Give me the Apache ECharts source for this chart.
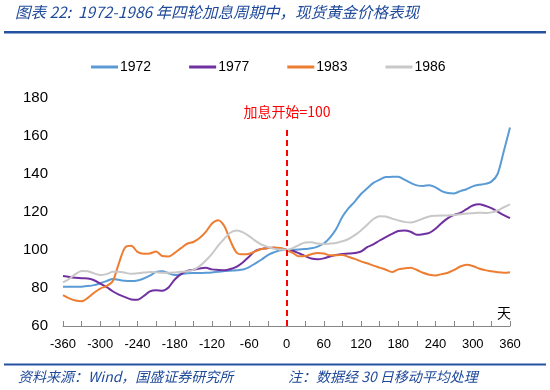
<!DOCTYPE html>
<html>
<head>
<meta charset="utf-8">
<script src="https://cdn.jsdelivr.net/npm/echarts@6/dist/echarts.min.js"></script>
<style>
html,body{margin:0;padding:0;background:#fff;}
#c{width:550px;height:390px;}
</style>
</head>
<body>
<div id="c"></div>
<script>
const days = [-360,-350,-340,-330,-320,-310,-300,-290,-280,-270,-260,-250,-240,-230,-220,-210,-200,-190,-180,-170,-160,-150,-140,-130,-120,-110,-100,-90,-80,-70,-60,-50,-40,-30,-20,-10,0,10,20,30,40,50,60,70,80,90,100,110,120,130,140,150,160,170,180,190,200,210,220,230,240,250,260,270,280,290,300,310,320,330,340,350,360];

const s1972 = [80.6,80.6,80.6,80.7,81,81.5,82.5,83.6,84.8,84.3,83.8,83.7,84,85,86.5,88.5,88.8,87.8,86.8,87.2,87.8,87.9,87.9,88,88.2,88.5,88.9,89.1,89.3,89.7,91,93,95,97.3,98.8,99.9,100,100.1,100.2,100.5,100.9,101.8,103.4,106.5,111,117.5,122,125.5,129.5,132.5,135.3,137,138.4,138.5,138.6,137,135.3,134,133.7,134.1,133,131,130,129.8,131,132,133.5,134.3,134.8,136,140,152,164.5];

const s1977 = [86.3,85.8,85.4,85.1,85,84.1,82.3,80.6,78.3,76.5,75.2,74,73.8,75.8,78.2,78.8,78.6,80.3,84.5,87.3,89,89.6,90.3,90.6,89.8,89.5,89.3,90,91.3,93.6,96.6,99.6,100.6,101,101.2,100.8,100.2,99.6,98.3,96.8,95.5,95.1,95.6,96.6,97.4,97.9,98.1,98.4,99.2,101.5,103,105,106.8,108.5,110,110.3,109.6,108,108.3,109,111.2,114.2,116.8,118.5,119.5,121.5,123.4,124.1,123.3,122,120.2,118.3,116.8];

const s1983 = [76.2,74.5,73.4,73,74.8,77.5,79.7,81,83.5,93,101.3,102.2,99,98,98.2,99.2,96.8,96.6,98.5,101,103.3,104.2,106.3,109.5,114,115.7,112.5,104.5,98.5,97.7,98,99.3,100.5,101,101.3,101,100,98.5,96.7,96.8,97.8,98.4,98.2,97.2,97.2,97.4,96.3,95.3,94,93,91.8,90.7,89.6,88.4,89.8,90.3,90.6,89.5,88,87,86.6,87.3,88,89.5,91.3,92.2,91.6,90.3,89.4,88.8,88.3,88,88.3];

const s1986 = [83,84.8,87.3,89,88.8,87.7,86.8,87.3,88.5,88.6,88,87.5,87.8,88.1,88.4,88.3,88,88,88.2,88.5,88.8,89.5,91.5,94.5,98,102.3,106,109.2,110.2,109.3,107.3,104.8,102.8,101.6,100.6,100.2,100,101,102.6,103.9,104.1,103.4,103.2,103.4,103.7,104.6,105.8,107.8,110.3,113.3,116.3,117.8,117.6,116.5,115.6,114.8,114.5,115.3,116.6,117.6,118,118.2,118.2,118.4,118.8,119.2,119.4,119.6,119.5,119.8,120.8,122.5,124];

const seriesNames = ['1972','1977','1983','1986'];
const seriesColors = ['#5B9BD5','#7030A0','#ED7D31','#C8C8C8'];
const seriesValues = [s1972, s1977, s1983, s1986];

const titleText = '图表 22:  1972-1986 年四轮加息周期中，现货黄金价格表现';
const sourceText = '资料来源：Wind，国盛证券研究所';
const noteText = '注：数据经 30 日移动平均处理';
const markText = '加息开始=100';

const chart = echarts.init(document.getElementById('c'), null, {renderer:'canvas'});

const series = seriesValues.map((vals, i) => ({
  name: seriesNames[i],
  type: 'line',
  data: days.map((d, j) => [d, vals[j]]),
  symbol: 'none',
  smooth: 0.3,
  lineStyle: {width: 2, color: seriesColors[i]},
  itemStyle: {color: seriesColors[i]},
  z: 2
}));

series[0].markLine = {
  silent: true,
  symbol: 'none',
  label: {show: false},
  lineStyle: {color: '#FF0000', type: [6, 4], width: 2},
  data: [[{coord: [0, 60]}, {coord: [0, 164]}]]
};

chart.setOption({
  animation: false,
  grid: {left: 63, right: 40, top: 98, bottom: 64},
  legend: {
    data: seriesNames,
    left: 86, top: 55,
    icon: 'rect',
    itemWidth: 27, itemHeight: 3,
    itemGap: 38,
    textStyle: {fontFamily: 'Liberation Sans', fontSize: 14, color: '#000', padding: [0, 0, 0, -3]}
  },
  xAxis: {
    type: 'value', min: -360, max: 360, interval: 30,
    axisLine: {show: true, onZero: false, lineStyle: {color: '#868686', width: 1}},
    axisTick: {show: true, inside: true, length: 5, lineStyle: {color: '#868686'}},
    splitLine: {show: false},
    axisLabel: {
      margin: 12, fontFamily: 'Liberation Sans', fontSize: 13, color: '#000',
      formatter: v => (v % 60 === 0 ? String(v) : '')
    }
  },
  yAxis: {
    type: 'value', min: 60, max: 180, interval: 20,
    axisLine: {show: false}, axisTick: {show: false}, splitLine: {show: false},
    axisLabel: {margin: 15, fontFamily: 'Liberation Sans', fontSize: 15, color: '#000'}
  },
  graphic: [
    {type: 'text', left: 15, top: 4, style: {text: titleText, font: 'italic 15.5px "Noto Sans CJK SC", "Liberation Sans"', fill: '#1F4A9A'}},
    {type: 'rect', shape: {x: 4, y: 31, width: 542, height: 2.5}, style: {fill: '#2452A0'}},
    {type: 'rect', shape: {x: 4, y: 363.5, width: 542, height: 2}, style: {fill: '#2452A0'}},
    {type: 'text', x: 18, y: 377, style: {text: sourceText, font: 'italic 14px "Noto Sans CJK SC", "Liberation Sans"', fill: '#1F4A9A', textVerticalAlign: 'middle'}},
    {type: 'text', x: 288, y: 377, style: {text: noteText, font: 'italic 14px "Noto Sans CJK SC", "Liberation Sans"', fill: '#1F4A9A', textVerticalAlign: 'middle'}},
    {type: 'text', x: 287, y: 112, style: {text: markText, font: '14px "Noto Sans CJK SC"', fill: '#FF0000', textAlign: 'center', textVerticalAlign: 'middle'}},
    {type: 'text', x: 504, y: 313, style: {text: '天', font: '14px "Noto Sans CJK SC"', fill: '#000', textAlign: 'center', textVerticalAlign: 'middle'}}
  ],
  series: series
});
</script>
</body>
</html>
